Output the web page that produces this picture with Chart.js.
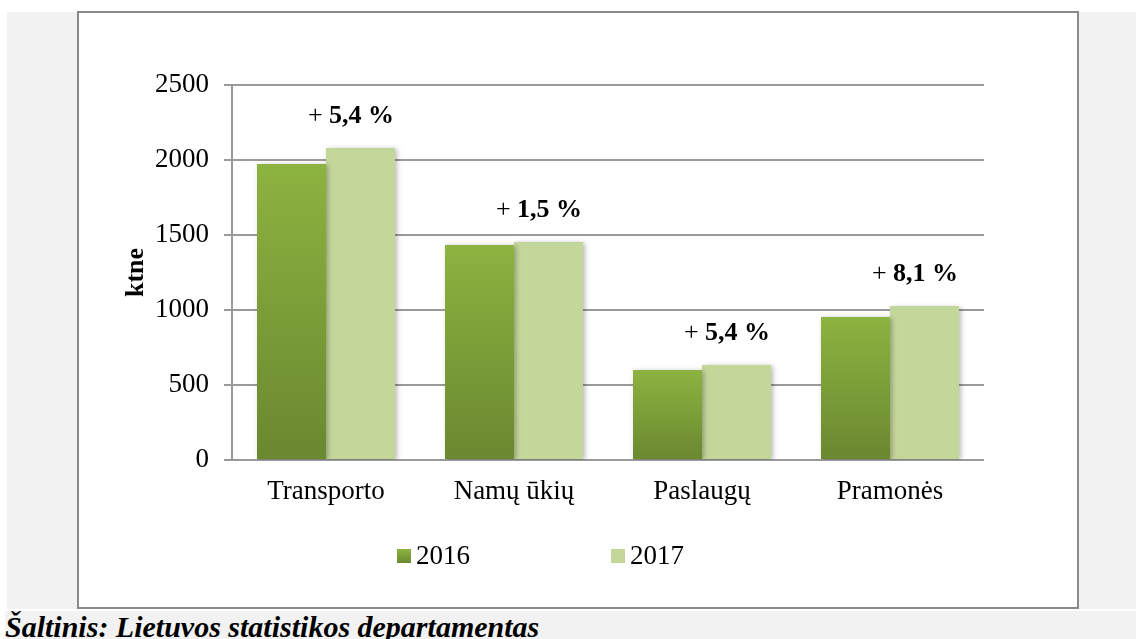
<!DOCTYPE html>
<html>
<head>
<meta charset="utf-8">
<script src="https://cdn.jsdelivr.net/npm/chart.js@4/dist/chart.umd.min.js"></script>
<style>
  body { margin: 0; width: 1136px; height: 639px; overflow: hidden; background: #fff; position: relative; font-family: "Liberation Serif", "Times New Roman", serif; }
  .bg-top { position: absolute; left: 7px; top: 12px; width: 1129px; height: 597px; background: #f2f2f2; }
  .bg-bottom { position: absolute; left: 5px; top: 611px; width: 1131px; height: 28px; background: #f2f2f2; }
  .box { position: absolute; left: 77px; top: 11px; width: 998px; height: 594px; border: 2px solid #8a8a8a; background: #fff; }
  .source { position: absolute; left: 5px; top: 610px; font-size: 30px; font-weight: bold; font-style: italic; color: #000; white-space: nowrap; }
</style>
</head>
<body>
<div class="bg-top"></div>
<div class="bg-bottom"></div>
<div class="box"><canvas id="chart"></canvas></div>
<div class="source">Šaltinis: Lietuvos statistikos departamentas</div>
<script>
const CATEGORIES = ["Transporto", "Namų ūkių", "Paslaugų", "Pramonės"];
const YEARS = ["2016", "2017"];
const VALUES_2016 = [1973, 1433, 600, 953];
const VALUES_2017 = [2080, 1453, 633, 1027];
const CHANGE_LABELS = ["5,4 %", "1,5 %", "5,4 %", "8,1 %"];
const Y_MIN = 0;
const Y_MAX = 2500;
const Y_STEP = 500;

const FONT = '"Liberation Serif", "Times New Roman", serif';
const GREEN_TOP = "#8db340";
const GREEN_BOTTOM = "#6a8830";
const LIGHT_GREEN = "#c4d79b";

function darkGradient(context) {
  const chart = context.chart;
  const { chartArea, scales } = chart;
  if (!chartArea || !scales.y) return GREEN_TOP;
  const value = context.raw ?? 0;
  const top = scales.y.getPixelForValue(value);
  const base = scales.y.getPixelForValue(0);
  if (!Number.isFinite(top) || top === base) return GREEN_TOP;
  const g = chart.ctx.createLinearGradient(0, top, 0, base);
  g.addColorStop(0, GREEN_TOP);
  g.addColorStop(1, GREEN_BOTTOM);
  return g;
}

const shadowPlugin = {
  id: "barShadow",
  beforeDatasetsDraw(chart) {
    const ctx = chart.ctx;
    ctx.save();
    ctx.shadowColor = "rgba(0,0,0,0.28)";
    ctx.shadowBlur = 5;
    ctx.shadowOffsetX = 2;
    ctx.shadowOffsetY = 1;
  },
  afterDatasetsDraw(chart) {
    chart.ctx.restore();
  }
};

const changeLabels = {
  id: "changeLabels",
  afterDraw(chart) {
    const ctx = chart.ctx;
    const meta = chart.getDatasetMeta(1);
    const x = chart.scales.x;
    ctx.save();
    ctx.fillStyle = "#000";
    ctx.textBaseline = "middle";
    ctx.textAlign = "left";
    CHANGE_LABELS.forEach((text, i) => {
      const bar = meta.data[i];
      const cx = x.getPixelForValue(i) + 25;
      const cy = bar.y - 32;
      ctx.font = `26px ${FONT}`;
      const plus = "+ ";
      const w1 = ctx.measureText(plus).width;
      ctx.font = `bold 26px ${FONT}`;
      const w2 = ctx.measureText(text).width;
      const left = cx - (w1 + w2) / 2;
      ctx.font = `26px ${FONT}`;
      ctx.fillText(plus, left, cy);
      ctx.font = `bold 26px ${FONT}`;
      ctx.fillText(text, left + w1, cy);
    });
    ctx.restore();
  }
};

const legendPlugin = {
  id: "customLegend",
  afterDraw(chart) {
    const ctx = chart.ctx;
    const cy = 543;
    const items = [
      { x: 318, label: YEARS[0], dark: true },
      { x: 532, label: YEARS[1], dark: false }
    ];
    ctx.save();
    ctx.font = `27px ${FONT}`;
    ctx.textBaseline = "middle";
    items.forEach(item => {
      if (item.dark) {
        const g = ctx.createLinearGradient(0, cy - 7, 0, cy + 7);
        g.addColorStop(0, GREEN_TOP);
        g.addColorStop(1, GREEN_BOTTOM);
        ctx.fillStyle = g;
      } else {
        ctx.fillStyle = LIGHT_GREEN;
      }
      ctx.fillRect(item.x, cy - 7, 14, 14);
      ctx.fillStyle = "#000";
      ctx.fillText(item.label, item.x + 19, cy + 1);
    });
    ctx.restore();
  }
};

new Chart(document.getElementById("chart"), {
  type: "bar",
  data: {
    labels: CATEGORIES,
    datasets: [
      { label: YEARS[0], data: VALUES_2016, backgroundColor: darkGradient, borderWidth: 0 },
      { label: YEARS[1], data: VALUES_2017, backgroundColor: LIGHT_GREEN, borderWidth: 0 }
    ]
  },
  options: {
    responsive: true,
    maintainAspectRatio: false,
    animation: false,
    categoryPercentage: 0.734,
    barPercentage: 1,
    layout: { padding: { top: 72, right: 93, left: 0, bottom: 0 } },
    plugins: {
      legend: { display: false },
      tooltip: { enabled: false }
    },
    scales: {
      x: {
        grid: { display: false, drawTicks: false },
        border: { display: false },
        ticks: { color: "#000", font: { family: FONT, size: 27 }, padding: 16 },
        afterFit: scale => { scale.height = 147; }
      },
      y: {
        min: Y_MIN,
        max: Y_MAX,
        ticks: { stepSize: Y_STEP, color: "#000", font: { family: FONT, size: 27 }, padding: 15, callback: value => String(value) },
        grid: { color: "#9a9a9a", lineWidth: 2, tickLength: 8 },
        border: { color: "#9a9a9a", width: 2 },
        title: { display: true, text: "ktne", color: "#000", font: { family: FONT, size: 26, weight: "bold" }, padding: { top: 42, bottom: 0 } },
        afterFit: scale => { scale.width = 153; }
      }
    }
  },
  plugins: [shadowPlugin, changeLabels, legendPlugin]
});
</script>
</body>
</html>
